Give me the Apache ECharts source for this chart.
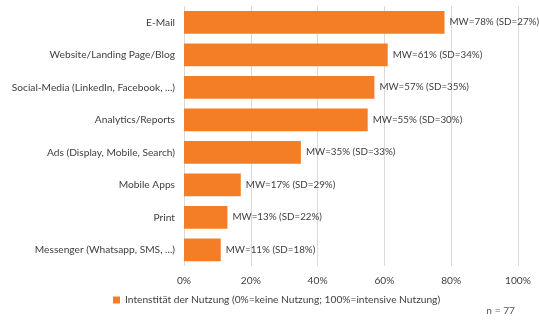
<!DOCTYPE html>
<html><head><meta charset="utf-8">
<script src="https://cdn.jsdelivr.net/npm/echarts@6/dist/echarts.min.js"></script>
<style>html,body{margin:0;padding:0;background:#fff}#c{width:539px;height:322px}</style>
</head><body><div id="c"></div>
<script>
const categories = ["E-Mail","Website/Landing Page/Blog","Social-Media (LinkedIn, Facebook, ...)","Analytics/Reports","Ads (Display, Mobile, Search)","Mobile Apps","Print","Messenger (Whatsapp, SMS, ...)"];
const meanValues = [78,61,57,55,35,17,13,11];
const sdValues = [27,34,35,30,33,29,22,18];
const xTicks = [0,20,40,60,80,100];
const seriesName = "Intenstität der Nutzung (0%=keine Nutzung; 100%=intensive Nutzung)";
const noteText = "n = 77";

const font = "Lato, 'Open Sans', sans-serif";
const fs = 10.2;
const chart = echarts.init(document.getElementById('c'), null, {renderer:'canvas'});
chart.setOption({
  animation:false,
  textStyle:{fontFamily:font},
  grid:{left:184, right:21, top:6, bottom:56, containLabel:false},
  xAxis:{type:'value', min:0, max:100, interval:20,
    axisLabel:{formatter:v=>v+'%', color:'#404040', fontSize:fs, fontFamily:font, margin:10},
    axisLine:{show:false}, axisTick:{show:false},
    splitLine:{lineStyle:{color:'#d9d9d9', width:1}}},
  yAxis:{type:'category', data:categories, inverse:true,
    axisLabel:{color:'#404040', fontSize:fs, fontFamily:font, margin:9},
    axisLine:{show:false}, axisTick:{show:false}},
  legend:{left:108, top:290, itemWidth:7, itemHeight:7, itemGap:4,
    textStyle:{color:'#404040', fontSize:fs, fontFamily:font},
    data:[{name:seriesName, icon:'rect'}]},
  graphic:[{type:'text', right:24, top:306, style:{text:noteText, fill:'#595959', font:fs+'px '+font}}],
  series:[{name:seriesName, type:'bar', data:meanValues, barWidth:'70%',
    itemStyle:{color:'#f47e26'},
    label:{show:true, position:'right', distance:5, color:'#404040', fontSize:9.8, fontFamily:font,
      formatter:p=>'MW='+meanValues[p.dataIndex]+'% (SD='+sdValues[p.dataIndex]+'%)'}}]
});
</script></body></html>
